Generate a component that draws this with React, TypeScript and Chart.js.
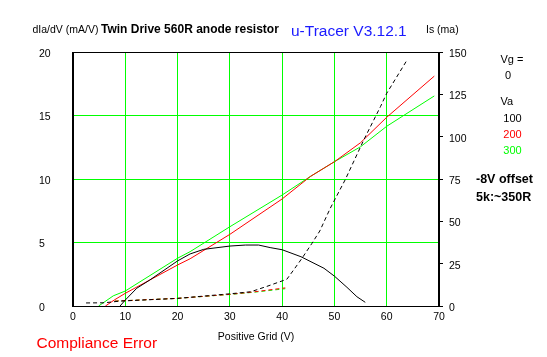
import React, { useEffect, useRef } from "react";
import { Chart, registerables } from "chart.js";

Chart.register(...registerables);

// ---- data ----
// dIa/dV (mA/V), left axis
const gm100X = [9, 10, 12.2, 14.7, 20, 22.4, 25, 30, 33, 35.5, 37.7, 40, 43.6, 48, 50, 52.4, 54.3, 55.9];
const gm100Y = [0, 0.47, 1.4, 2.05, 3.55, 4.1, 4.46, 4.72, 4.8, 4.8, 4.6, 4.43, 3.88, 2.97, 2.35, 1.47, 0.73, 0.29];
const gm200X = [6.2, 8, 10, 20, 22.4, 30, 40, 45.4, 50, 55, 60, 69.1];
const gm200Y = [0, 0.5, 1.0, 3.23, 3.72, 5.64, 8.43, 10.2, 11.36, 12.86, 14.86, 18.1];
const gm300X = [4.9, 7.7, 10, 20, 22.4, 30, 40, 45.4, 50, 55, 60, 69.1];
const gm300Y = [0, 0.8, 1.18, 3.76, 4.28, 6.24, 8.74, 10.2, 11.36, 12.54, 14.15, 16.54];

// Is (mA), right axis
const is100X = [2.5, 6, 9, 20, 30, 34, 37, 40.9, 42.2, 43.8, 45.7, 47.2, 49.2, 52.1, 55.6, 58.8, 60, 63.7];
const is100Y = [1.8, 1.9, 2.9, 4.5, 7.2, 8.4, 11.5, 15.8, 21.3, 28.2, 37, 44.3, 57.7, 74.8, 98, 117.7, 125.6, 144.3];
const is200X = [8, 20, 30, 34.5, 40.6];
const is200Y = [2.9, 4.5, 6.9, 8.3, 10.7];
const is300X = [8, 20, 30, 34.5, 40.6];
const is300Y = [2.9, 4.5, 6.8, 8.1, 10.2];

const vaLabels = ["100", "200", "300"];
const vaColors = ["#000000", "#ff0000", "#00ff00"];

const FONT = "'Liberation Sans', Arial, sans-serif";

const pts = (xs: number[], ys: number[]) => xs.map((x, i) => ({ x, y: ys[i] }));

const textPlugin = {
  id: "annotations",
  beforeDatasetsDraw(chart: any) {
    const { ctx, chartArea: a } = chart;
    ctx.save();
    ctx.strokeStyle = "#000";
    ctx.lineWidth = 1;
    const l = Math.round(a.left) - 0.5;
    const r = Math.round(a.right) - 0.5;
    const t = Math.round(a.top) + 0.5;
    const b = Math.round(a.bottom) + 0.5;
    ctx.strokeRect(l, t, r - l, b - t);
    ctx.restore();
  },
  afterDraw(chart: any) {
    const ctx = chart.ctx;
    ctx.save();
    ctx.textBaseline = "alphabetic";
    ctx.textAlign = "left";
    const put = (txt: string, x: number, y: number, font: string, color: string) => {
      ctx.font = font;
      ctx.fillStyle = color;
      ctx.fillText(txt, x, y);
    };
    put("dIa/dV (mA/V)", 32.5, 33, `10.5px ${FONT}`, "#000");
    put("Twin Drive 560R anode resistor", 101, 33.3, `bold 12px ${FONT}`, "#000");
    put("u-Tracer V3.12.1", 291, 35.5, `15.5px ${FONT}`, "#1a1aff");
    put("Is (ma)", 426, 33, `10.5px ${FONT}`, "#000");

    put("Vg =", 500.5, 62.7, `11px ${FONT}`, "#000");
    put("0", 505, 79.3, `11px ${FONT}`, "#000");
    put("Va", 500.5, 105, `11px ${FONT}`, "#000");
    vaLabels.forEach((s, i) => put(s, 503.3, 121.7 + i * 16.3, `11px ${FONT}`, vaColors[i]));
    put("-8V offset", 476, 182.7, `bold 12.5px ${FONT}`, "#000");
    put("5k:~350R", 476, 200.7, `bold 12.5px ${FONT}`, "#000");

    put("Compliance Error", 36.5, 347.7, `15.5px ${FONT}`, "#ff0000");
    ctx.restore();
  },
};

export default function App() {
  const ref = useRef<HTMLCanvasElement | null>(null);

  useEffect(() => {
    if (!ref.current) return;
    const tickFont = { family: FONT, size: 10.5 };
    const chart = new Chart(ref.current, {
      type: "line",
      data: {
        datasets: [
          { label: "Is 100", data: pts(is100X, is100Y), yAxisID: "y2", borderColor: "#000", borderDash: [4, 3] },
          { label: "gm 100", data: pts(gm100X, gm100Y), yAxisID: "y", borderColor: "#000" },
          { label: "Is 200", data: pts(is200X, is200Y), yAxisID: "y2", borderColor: "#ff0000", borderDash: [4, 3] },
          { label: "gm 200", data: pts(gm200X, gm200Y), yAxisID: "y", borderColor: "#ff0000" },
          { label: "Is 300", data: pts(is300X, is300Y), yAxisID: "y2", borderColor: "#00ff00", borderDash: [4, 3] },
          { label: "gm 300", data: pts(gm300X, gm300Y), yAxisID: "y", borderColor: "#00ff00" },
        ].map((d) => ({ ...d, borderWidth: 1, pointRadius: 0, tension: 0, fill: false })),
      },
      options: {
        animation: false,
        responsive: false,
        devicePixelRatio: 1,
        parsing: true,
        layout: { padding: { left: 39, top: 52, right: 0, bottom: 0 } },
        plugins: { legend: { display: false }, tooltip: { enabled: false }, title: { display: false } },
        scales: {
          x: {
            type: "linear",
            position: "bottom",
            min: 0,
            max: 70,
            ticks: { stepSize: 10, color: "#000", font: tickFont, padding: 5, maxRotation: 0, autoSkip: false },
            grid: { color: "#00ff00", drawTicks: false, lineWidth: 1 },
            border: { display: true, color: "#000" },
            title: {
              display: true,
              text: "Positive Grid (V)",
              color: "#000",
              font: { family: FONT, size: 10.5 },
              padding: { top: 0, bottom: 14 },
            },
            afterFit: (s: any) => {
              s.height = 51;
            },
          },
          y: {
            type: "linear",
            position: "left",
            min: 0,
            max: 20,
            ticks: { stepSize: 5, color: "#000", font: tickFont, crossAlign: "far", padding: 0, labelOffset: 2 },
            grid: { color: "#00ff00", drawTicks: false, lineWidth: 1 },
            border: { display: true, color: "#000" },
            afterFit: (s: any) => {
              s.width = 34;
            },
          },
          y2: {
            type: "linear",
            position: "right",
            min: 0,
            max: 150,
            ticks: { stepSize: 25, color: "#000", font: tickFont, padding: 6, labelOffset: 2 },
            grid: { drawOnChartArea: false, tickLength: 4, tickColor: "#000", color: "#000" },
            border: { display: true, color: "#000" },
            afterFit: (s: any) => {
              s.width = 108;
            },
          },
        },
      } as any,
      plugins: [textPlugin],
    });
    return () => chart.destroy();
  }, []);

  return (
    <div style={{ position: "absolute", left: 0, top: 0, width: 547, height: 357, background: "#fff" }}>
      <canvas ref={ref} width={547} height={357} style={{ display: "block", width: 547, height: 357 }} />
    </div>
  );
}
